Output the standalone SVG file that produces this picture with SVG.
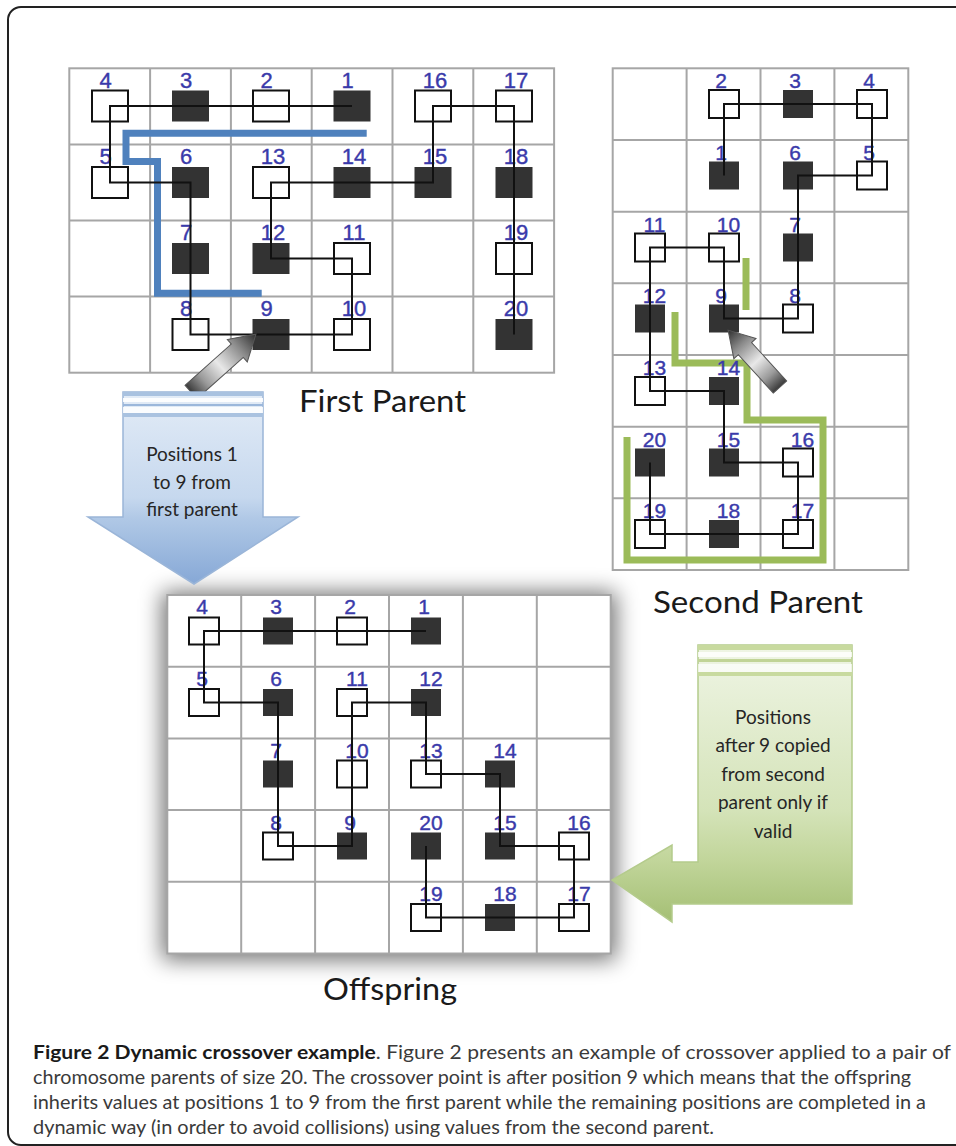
<svg xmlns="http://www.w3.org/2000/svg" width="956" height="1146" viewBox="0 0 956 1146">
<defs>
<style>
.grid{fill:none;stroke:#a6a6a6;stroke-width:2}
.so{fill:none;stroke:#111;stroke-width:2}
.sf{fill:#333}
.lbl{font-family:"Liberation Sans",Arial,sans-serif;font-size:21px;fill:#3a3aaa;stroke:#3a3aaa;stroke-width:0.4;text-anchor:middle}
.lbl1{font-size:22px}
.chain{fill:none;stroke:#111;stroke-width:2}
.title{font-family:Lato,"Open Sans",sans-serif;font-size:30px;fill:#1a1a1a}
.at{font-family:Lato,"Open Sans",sans-serif;font-size:19px;fill:#262626;text-anchor:middle}
.cap{font-family:Lato,"Open Sans",sans-serif;font-size:19px;fill:#3a3a3a}
.capb{font-weight:bold;fill:#1a1a1a}
.blue{fill:none;stroke:#4f81bd;stroke-width:7}
.green{fill:none;stroke:#9bbb59;stroke-width:7}
.garrow{fill:url(#gg);stroke:#555;stroke-width:1}
</style>
<linearGradient id="gg" x1="0" y1="0" x2="1" y2="0">
<stop offset="0" stop-color="#3a3a3a"/>
<stop offset="0.2" stop-color="#9a9a9a"/>
<stop offset="0.45" stop-color="#e8e8e8"/>
<stop offset="0.75" stop-color="#8a8a8a"/>
<stop offset="1" stop-color="#2e2e2e"/>
</linearGradient>
<linearGradient id="bg" gradientUnits="userSpaceOnUse" x1="0" y1="392" x2="0" y2="584">
<stop offset="0" stop-color="#e3ecf7"/>
<stop offset="0.55" stop-color="#c6d8ee"/>
<stop offset="0.66" stop-color="#b0c8e6"/>
<stop offset="1" stop-color="#86a8d6"/>
</linearGradient>
<linearGradient id="gr" gradientUnits="userSpaceOnUse" x1="0" y1="645" x2="0" y2="922">
<stop offset="0" stop-color="#eff5e5"/>
<stop offset="0.6" stop-color="#d4e3b8"/>
<stop offset="0.78" stop-color="#c1d59a"/>
<stop offset="1" stop-color="#a4bf74"/>
</linearGradient>
<filter id="sh" x="-20%" y="-20%" width="140%" height="140%">
<feGaussianBlur stdDeviation="11"/>
</filter>
</defs>
<rect x="0" y="0" width="956" height="1146" fill="#fff"/>
<rect x="8" y="7" width="990" height="1138" rx="13" fill="none" stroke="#222" stroke-width="2"/>

<!-- grids -->
<g id="grid-first">
<rect class="grid" x="69.3" y="68.3" width="484.8" height="304.4"/>
<path class="grid" d="M150.1,68.3V372.7M230.9,68.3V372.7M311.7,68.3V372.7M392.5,68.3V372.7M473.3,68.3V372.7M69.3,144.4H554.1M69.3,220.5H554.1M69.3,296.6H554.1"/>
</g>
<g id="grid-second">
<rect class="grid" x="612.7" y="68.3" width="295.6" height="501.7"/>
<path class="grid" d="M686.6,68.3V570M760.5,68.3V570M834.4,68.3V570M612.7,140H908.3M612.7,211.7H908.3M612.7,283.3H908.3M612.7,355H908.3M612.7,426.7H908.3M612.7,498.3H908.3"/>
</g>
<g id="grid-offspring">
<rect x="162" y="592" width="454" height="368" fill="#000" opacity="0.55" filter="url(#sh)"/>
<rect x="167.3" y="595" width="443.4" height="358.5" fill="#fff"/>
<rect class="grid" x="167.3" y="595" width="443.4" height="358.5"/>
<path class="grid" d="M241.2,595V953.5M315.1,595V953.5M389,595V953.5M462.9,595V953.5M536.8,595V953.5M167.3,666.7H610.7M167.3,738.4H610.7M167.3,810.1H610.7M167.3,881.8H610.7"/>
</g>

<!-- crossover boundary lines -->
<g id="boundaries">
<polyline class="blue" points="366.7,133.3 126,133.3 126,161.5 157.5,161.5 157.5,293.3 261.7,293.3"/>
<line class="green" x1="746" y1="258" x2="746" y2="310"/>
<polyline class="green" points="675,312 675,363 747,363 747,420 823,420 823,560 627,560 627,437"/>
</g>

<!-- first parent nodes -->
<g id="p1-n1"><rect class="sf" x="333.5" y="90.5" width="37" height="31"/><text class="lbl lbl1" x="347.5" y="88">1</text></g>
<g id="p1-n2"><rect class="so" x="253" y="90.5" width="36" height="31"/><text class="lbl lbl1" x="266.5" y="88">2</text></g>
<g id="p1-n3"><rect class="sf" x="172" y="90.5" width="37" height="31"/><text class="lbl lbl1" x="186" y="88">3</text></g>
<g id="p1-n4"><rect class="so" x="92" y="90.5" width="36" height="31"/><text class="lbl lbl1" x="105.5" y="88">4</text></g>
<g id="p1-n5"><rect class="so" x="92" y="167" width="36" height="31"/><text class="lbl lbl1" x="105.5" y="164">5</text></g>
<g id="p1-n6"><rect class="sf" x="172" y="167" width="37" height="31"/><text class="lbl lbl1" x="186" y="164">6</text></g>
<g id="p1-n7"><rect class="sf" x="172" y="243" width="37" height="31"/><text class="lbl lbl1" x="186" y="240">7</text></g>
<g id="p1-n8"><rect class="so" x="172.5" y="319" width="36" height="31"/><text class="lbl lbl1" x="186" y="316">8</text></g>
<g id="p1-n9"><rect class="sf" x="252.5" y="319" width="37" height="31"/><text class="lbl lbl1" x="266.5" y="316">9</text></g>
<g id="p1-n10"><rect class="so" x="334" y="319" width="36" height="31"/><text class="lbl lbl1" x="354" y="316">10</text></g>
<g id="p1-n11"><rect class="so" x="334" y="243" width="36" height="31"/><text class="lbl lbl1" x="354" y="240">11</text></g>
<g id="p1-n12"><rect class="sf" x="252.5" y="243" width="37" height="31"/><text class="lbl lbl1" x="273" y="240">12</text></g>
<g id="p1-n13"><rect class="so" x="253" y="167" width="36" height="31"/><text class="lbl lbl1" x="273" y="164">13</text></g>
<g id="p1-n14"><rect class="sf" x="333.5" y="167" width="37" height="31"/><text class="lbl lbl1" x="354" y="164">14</text></g>
<g id="p1-n15"><rect class="sf" x="414.5" y="167" width="37" height="31"/><text class="lbl lbl1" x="435" y="164">15</text></g>
<g id="p1-n16"><rect class="so" x="415" y="90.5" width="36" height="31"/><text class="lbl lbl1" x="435" y="88">16</text></g>
<g id="p1-n17"><rect class="so" x="496" y="90.5" width="36" height="31"/><text class="lbl lbl1" x="516" y="88">17</text></g>
<g id="p1-n18"><rect class="sf" x="495.5" y="167" width="37" height="31"/><text class="lbl lbl1" x="516" y="164">18</text></g>
<g id="p1-n19"><rect class="so" x="496" y="243" width="36" height="31"/><text class="lbl lbl1" x="516" y="240">19</text></g>
<g id="p1-n20"><rect class="sf" x="495.5" y="319" width="37" height="31"/><text class="lbl lbl1" x="516" y="316">20</text></g>

<!-- second parent nodes -->
<g id="p2-n1"><rect class="sf" x="709" y="161.5" width="30" height="28"/><text class="lbl" x="721" y="159.5">1</text></g>
<g id="p2-n2"><rect class="so" x="709" y="90" width="30" height="28"/><text class="lbl" x="721" y="88">2</text></g>
<g id="p2-n3"><rect class="sf" x="783" y="90" width="30" height="28"/><text class="lbl" x="795" y="88">3</text></g>
<g id="p2-n4"><rect class="so" x="857" y="90" width="30" height="28"/><text class="lbl" x="869" y="88">4</text></g>
<g id="p2-n5"><rect class="so" x="857" y="161.5" width="30" height="28"/><text class="lbl" x="869" y="159.5">5</text></g>
<g id="p2-n6"><rect class="sf" x="783" y="161.5" width="30" height="28"/><text class="lbl" x="795" y="159.5">6</text></g>
<g id="p2-n7"><rect class="sf" x="783" y="233.5" width="30" height="28"/><text class="lbl" x="795" y="231.5">7</text></g>
<g id="p2-n8"><rect class="so" x="783" y="304.5" width="30" height="28"/><text class="lbl" x="795" y="303">8</text></g>
<g id="p2-n9"><rect class="sf" x="709" y="304.5" width="30" height="28"/><text class="lbl" x="721" y="303">9</text></g>
<g id="p2-n10"><rect class="so" x="709" y="233.5" width="30" height="28"/><text class="lbl" x="728.5" y="231.5">10</text></g>
<g id="p2-n11"><rect class="so" x="635" y="233.5" width="30" height="28"/><text class="lbl" x="654.5" y="231.5">11</text></g>
<g id="p2-n12"><rect class="sf" x="635" y="304.5" width="30" height="28"/><text class="lbl" x="654.5" y="303">12</text></g>
<g id="p2-n13"><rect class="so" x="635" y="377" width="30" height="28"/><text class="lbl" x="654.5" y="375">13</text></g>
<g id="p2-n14"><rect class="sf" x="709" y="377" width="30" height="28"/><text class="lbl" x="728.5" y="375">14</text></g>
<g id="p2-n15"><rect class="sf" x="709" y="448.5" width="30" height="28"/><text class="lbl" x="728.5" y="446.5">15</text></g>
<g id="p2-n16"><rect class="so" x="783" y="448.5" width="30" height="28"/><text class="lbl" x="802.5" y="446.5">16</text></g>
<g id="p2-n17"><rect class="so" x="783" y="520" width="30" height="28"/><text class="lbl" x="802.5" y="518">17</text></g>
<g id="p2-n18"><rect class="sf" x="709" y="520" width="30" height="28"/><text class="lbl" x="728.5" y="518">18</text></g>
<g id="p2-n19"><rect class="so" x="635" y="520" width="30" height="28"/><text class="lbl" x="654.5" y="518">19</text></g>
<g id="p2-n20"><rect class="sf" x="635" y="448.5" width="30" height="28"/><text class="lbl" x="654.5" y="446.5">20</text></g>

<!-- offspring nodes -->
<g id="o-n1"><rect class="sf" x="411" y="617.5" width="30" height="27"/><text class="lbl" x="424" y="614">1</text></g>
<g id="o-n2"><rect class="so" x="337" y="617.5" width="30" height="27"/><text class="lbl" x="350" y="614">2</text></g>
<g id="o-n3"><rect class="sf" x="263" y="617.5" width="30" height="27"/><text class="lbl" x="276" y="614">3</text></g>
<g id="o-n4"><rect class="so" x="189" y="617.5" width="30" height="27"/><text class="lbl" x="202" y="614">4</text></g>
<g id="o-n5"><rect class="so" x="189" y="689" width="30" height="27"/><text class="lbl" x="202" y="686">5</text></g>
<g id="o-n6"><rect class="sf" x="263" y="689" width="30" height="27"/><text class="lbl" x="276" y="686">6</text></g>
<g id="o-n7"><rect class="sf" x="263" y="760.5" width="30" height="27"/><text class="lbl" x="276" y="758">7</text></g>
<g id="o-n8"><rect class="so" x="263" y="832.5" width="30" height="27"/><text class="lbl" x="276" y="830">8</text></g>
<g id="o-n9"><rect class="sf" x="337" y="832.5" width="30" height="27"/><text class="lbl" x="350" y="830">9</text></g>
<g id="o-n10"><rect class="so" x="337" y="760.5" width="30" height="27"/><text class="lbl" x="357" y="758">10</text></g>
<g id="o-n11"><rect class="so" x="337" y="689" width="30" height="27"/><text class="lbl" x="357" y="686">11</text></g>
<g id="o-n12"><rect class="sf" x="411" y="689" width="30" height="27"/><text class="lbl" x="431" y="686">12</text></g>
<g id="o-n13"><rect class="so" x="411" y="760.5" width="30" height="27"/><text class="lbl" x="431" y="758">13</text></g>
<g id="o-n14"><rect class="sf" x="485" y="760.5" width="30" height="27"/><text class="lbl" x="505" y="758">14</text></g>
<g id="o-n15"><rect class="sf" x="485" y="832.5" width="30" height="27"/><text class="lbl" x="505" y="830">15</text></g>
<g id="o-n16"><rect class="so" x="559" y="832.5" width="30" height="27"/><text class="lbl" x="579" y="830">16</text></g>
<g id="o-n17"><rect class="so" x="559" y="904" width="30" height="27"/><text class="lbl" x="579" y="901">17</text></g>
<g id="o-n18"><rect class="sf" x="485" y="904" width="30" height="27"/><text class="lbl" x="505" y="901">18</text></g>
<g id="o-n19"><rect class="so" x="411" y="904" width="30" height="27"/><text class="lbl" x="431" y="901">19</text></g>
<g id="o-n20"><rect class="sf" x="411" y="832.5" width="30" height="27"/><text class="lbl" x="431" y="830">20</text></g>

<!-- connectors -->
<g id="connectors">
<polyline class="chain" points="352,106 271,106 190.5,106 110,106 110,182.5 190.5,182.5 190.5,258.5 190.5,334.5 271,334.5 352,334.5 352,258.5 271,258.5 271,182.5 352,182.5 433,182.5 433,106 514,106 514,182.5 514,258.5 514,334.5"/>
<polyline class="chain" points="724,175.5 724,104 798,104 872,104 872,175.5 798,175.5 798,247.5 798,318.5 724,318.5 724,247.5 650,247.5 650,318.5 650,391 724,391 724,462.5 798,462.5 798,534 724,534 650,534 650,462.5"/>
<polyline class="chain" points="426,631 352,631 278,631 204,631 204,702.5 278,702.5 278,774 278,846 352,846 352,774 352,702.5 426,702.5 426,774 500,774 500,846 574,846 574,917.5 500,917.5 426,917.5 426,846"/>
</g>

<!-- crossover point pointers -->
<g id="pointer-first" transform="translate(191,392) rotate(-41.7)">
<polygon class="garrow" points="0,-9 62,-9 62,-15 87,0 62,15 62,9 0,9"/>
</g>
<g id="pointer-second" transform="translate(780,387) rotate(-132.4)">
<polygon class="garrow" points="0,-9 52,-9 52,-15 77,0 52,15 52,9 0,9"/>
</g>

<!-- titles -->
<g id="label-first"><text class="title" x="299" y="412" textLength="167" lengthAdjust="spacingAndGlyphs">First Parent</text></g>
<g id="label-second"><text class="title" x="653" y="613" textLength="210" lengthAdjust="spacingAndGlyphs">Second Parent</text></g>
<g id="label-offspring"><text class="title" x="323" y="1000" textLength="134" lengthAdjust="spacingAndGlyphs">Offspring</text></g>

<!-- blue arrow -->
<g id="arrow-first">
<path d="M123,392H263V517H298L194,584L88,517H123Z" fill="url(#bg)" stroke="#9ab5d8" stroke-width="1.5"/>
<rect x="123" y="392" width="140" height="4" fill="#a9c2e0"/>
<rect x="123" y="398" width="140" height="4" fill="#fff" opacity="0.9"/>
<rect x="123" y="404" width="140" height="2" fill="#9bb7db"/>
<rect x="123" y="407" width="140" height="6" fill="#fff" opacity="0.85"/>
<rect x="123" y="413" width="140" height="4" fill="#a9c2e0"/>
<text class="at" x="192" y="461">Positions 1</text>
<text class="at" x="192" y="489">to 9 from</text>
<text class="at" x="192" y="516">first parent</text>
</g>

<!-- green arrow -->
<g id="arrow-second">
<path d="M698,645H852V904H672V922L612,880L672,845V862H698Z" fill="url(#gr)" stroke="#b4cb8c" stroke-width="1.5"/>
<rect x="698" y="645" width="154" height="5" fill="#c8da9f"/>
<rect x="698" y="652" width="154" height="5" fill="#fff" opacity="0.8"/>
<rect x="698" y="659" width="154" height="3" fill="#c1d497"/>
<rect x="698" y="664" width="154" height="8" fill="#fff" opacity="0.7"/>
<rect x="698" y="672" width="154" height="4" fill="#c8da9f"/>
<text class="at" x="773" y="724">Positions</text>
<text class="at" x="773" y="752">after 9 copied</text>
<text class="at" x="773" y="781">from second</text>
<text class="at" x="773" y="809">parent only if</text>
<text class="at" x="773" y="838">valid</text>
</g>

<!-- caption -->
<g id="caption">
<text class="cap" x="33" y="1059" textLength="918" lengthAdjust="spacingAndGlyphs"><tspan class="capb">Figure 2 Dynamic crossover example</tspan>. Figure 2 presents an example of crossover applied to a pair of</text>
<text class="cap" x="33" y="1084" textLength="878" lengthAdjust="spacingAndGlyphs">chromosome parents of size 20. The crossover point is after position 9 which means that the offspring</text>
<text class="cap" x="33" y="1109" textLength="893" lengthAdjust="spacingAndGlyphs">inherits values at positions 1 to 9 from the first parent while the remaining positions are completed in a</text>
<text class="cap" x="33" y="1134" textLength="681" lengthAdjust="spacingAndGlyphs">dynamic way (in order to avoid collisions) using values from the second parent.</text>
</g>
</svg>
